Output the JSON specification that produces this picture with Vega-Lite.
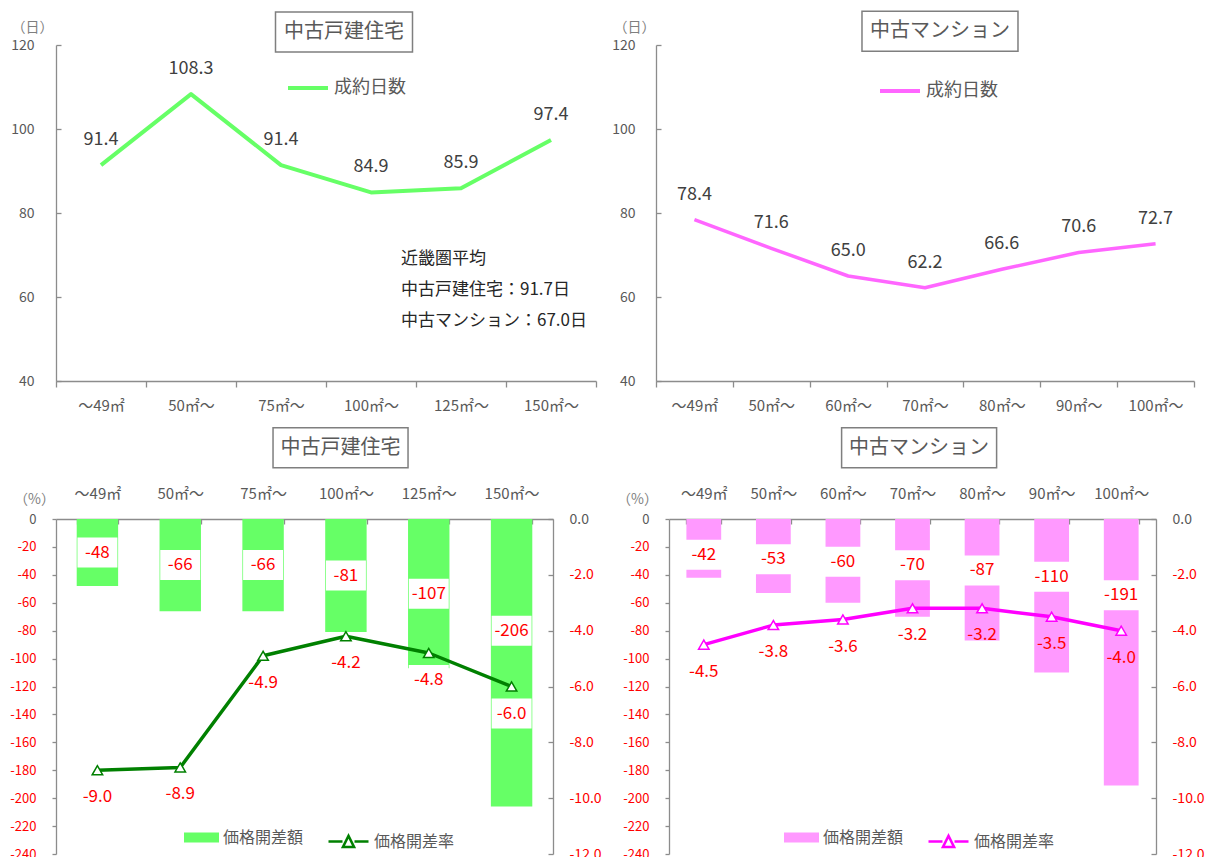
{
  "$schema": "https://vega.github.io/schema/vega-lite/v6.json",
  "padding": {"left": 9, "top": 8, "right": 0, "bottom": 0},
  "config": {
    "font": "Noto Sans CJK JP",
    "mark": {"font": "Noto Sans CJK JP"},
    "text": {"font": "Noto Sans CJK JP", "fontWeight": "normal"},
    "view": {"stroke": null},
    "locale": {"number": {"decimal": ".", "thousands": ",", "grouping": [3], "currency": ["", ""], "minus": "-"}},
    "axis": {"grid": false, "domainColor": "#8c8c8c", "tickColor": "#8c8c8c", "domainWidth": 1.3, "tickWidth": 1.3, "labelColor": "#595959", "labelFontSize": 14, "labelFont": "Noto Sans CJK JP", "titleFont": "Noto Sans CJK JP", "labelOverlap": false},
    "legend": {"labelColor": "#595959", "labelFont": "Noto Sans CJK JP", "padding": 0}
  },
  "datasets": {
    "kodate_days": [
      {"size": "～49㎡", "days": 91.4},
      {"size": "50㎡～", "days": 108.3},
      {"size": "75㎡～", "days": 91.4},
      {"size": "100㎡～", "days": 84.9},
      {"size": "125㎡～", "days": 85.9},
      {"size": "150㎡～", "days": 97.4}
    ],
    "mansion_days": [
      {"size": "～49㎡", "days": 78.4},
      {"size": "50㎡～", "days": 71.6},
      {"size": "60㎡～", "days": 65.0},
      {"size": "70㎡～", "days": 62.2},
      {"size": "80㎡～", "days": 66.6},
      {"size": "90㎡～", "days": 70.6},
      {"size": "100㎡～", "days": 72.7}
    ],
    "kodate_gap": [
      {"size": "～49㎡", "diff": -48, "rate": -9.0},
      {"size": "50㎡～", "diff": -66, "rate": -8.9},
      {"size": "75㎡～", "diff": -66, "rate": -4.9},
      {"size": "100㎡～", "diff": -81, "rate": -4.2},
      {"size": "125㎡～", "diff": -107, "rate": -4.8},
      {"size": "150㎡～", "diff": -206, "rate": -6.0}
    ],
    "mansion_gap": [
      {"size": "～49㎡", "diff": -42, "rate": -4.5},
      {"size": "50㎡～", "diff": -53, "rate": -3.8},
      {"size": "60㎡～", "diff": -60, "rate": -3.6},
      {"size": "70㎡～", "diff": -70, "rate": -3.2},
      {"size": "80㎡～", "diff": -87, "rate": -3.2},
      {"size": "90㎡～", "diff": -110, "rate": -3.5},
      {"size": "100㎡～", "diff": -191, "rate": -4.0}
    ],
    "single": [{}]
  },
  "spacing": 11,
  "resolve": {"scale": {"x": "independent", "y": "independent", "fill": "independent", "stroke": "independent"}},
  "vconcat": [
    {
      "hconcat": [
        {
          "width": 540,
          "height": 336,
          "data": {"name": "kodate_days"},
          "encoding": {
            "x": {"field": "size", "type": "nominal", "sort": null,
                  "scale": {"domain": ["～49㎡", "50㎡～", "75㎡～", "100㎡～", "125㎡～", "150㎡～"], "paddingInner": 0, "paddingOuter": 0},
                  "axis": {"orient": "bottom", "title": null, "labelAngle": 0, "tickBand": "extent", "tickSize": 6, "labelPadding": 11, "labelFontSize": 15}}
          },
          "layer": [
            {
              "mark": {"type": "line", "strokeWidth": 4, "strokeJoin": "round"},
              "encoding": {
                "y": {"field": "days", "type": "quantitative",
                      "scale": {"domain": [40, 120], "nice": false, "zero": false},
                      "axis": {"title": "（日）", "titleAngle": 0, "titleAlign": "center", "titleBaseline": "middle", "titleX": -24, "titleY": -18, "titleFontSize": 14, "titleFontWeight": "normal", "titleColor": "#7f7f7f", "values": [40, 60, 80, 100, 120], "tickCount": 10, "tickSize": -5, "labelPadding": 27, "labelOverlap": false}},
                "stroke": {"datum": "成約日数", "scale": {"range": ["#66FF66"]},
                           "legend": {"orient": "none", "legendX": 230, "legendY": 21, "title": null, "symbolType": "stroke", "symbolSize": 1600, "symbolStrokeWidth": 4, "labelFontSize": 18, "labelOffset": 4}}
              }
            },
            {
              "mark": {"type": "text", "dy": -25, "fontSize": 18, "color": "#404040"},
              "encoding": {
                "y": {"field": "days", "type": "quantitative"},
                "text": {"field": "days", "type": "quantitative", "format": ".1f"}
              }
            },
            {
              "data": {"name": "single"},
              "mark": {"type": "point", "shape": "M-3.425,-1H3.425V1H-3.425Z", "size": 1600, "filled": true, "fill": "white", "stroke": "#7f7f7f", "strokeWidth": 1.5, "opacity": 1},
              "encoding": {
                "x": {"datum": "100㎡～", "bandPosition": 0.2},
                "y": {"datum": 123.1, "type": "quantitative"}
              }
            },
            {
              "data": {"name": "single"},
              "mark": {"type": "text", "fontSize": 20, "color": "#595959", "align": "center", "baseline": "middle"},
              "encoding": {
                "x": {"datum": "100㎡～", "bandPosition": 0.2},
                "y": {"datum": 123.1, "type": "quantitative"},
                "text": {"value": "中古戸建住宅"}
              }
            },
            {
              "data": {"name": "single"},
              "mark": {"type": "text", "fontSize": 17, "color": "#262626", "align": "left", "baseline": "alphabetic", "lineHeight": 31, "dx": -15},
              "encoding": {
                "x": {"datum": "125㎡～", "bandPosition": 0},
                "y": {"datum": 67.9, "type": "quantitative"},
                "text": {"value": ["近畿圏平均", "中古戸建住宅：91.7日", "中古マンション：67.0日"]}
              }
            }
          ]
        },
        {
          "width": 538,
          "height": 336,
          "data": {"name": "mansion_days"},
          "encoding": {
            "x": {"field": "size", "type": "nominal", "sort": null,
                  "scale": {"domain": ["～49㎡", "50㎡～", "60㎡～", "70㎡～", "80㎡～", "90㎡～", "100㎡～"], "paddingInner": 0, "paddingOuter": 0},
                  "axis": {"orient": "bottom", "title": null, "labelAngle": 0, "tickBand": "extent", "tickSize": 6, "labelPadding": 11, "labelFontSize": 15}}
          },
          "layer": [
            {
              "mark": {"type": "line", "strokeWidth": 3.5, "strokeJoin": "round"},
              "encoding": {
                "y": {"field": "days", "type": "quantitative",
                      "scale": {"domain": [40, 120], "nice": false, "zero": false},
                      "axis": {"title": "（日）", "titleAngle": 0, "titleAlign": "center", "titleBaseline": "middle", "titleX": -22, "titleY": -18, "titleFontSize": 14, "titleFontWeight": "normal", "titleColor": "#7f7f7f", "values": [40, 60, 80, 100, 120], "tickCount": 10, "tickSize": -5, "labelPadding": 26, "labelOverlap": false}},
                "stroke": {"datum": "成約日数", "scale": {"range": ["#FF66FF"]},
                           "legend": {"orient": "none", "legendX": 222, "legendY": 24, "title": null, "symbolType": "stroke", "symbolSize": 1600, "symbolStrokeWidth": 4, "labelFontSize": 18, "labelOffset": 4}}
              }
            },
            {
              "mark": {"type": "text", "dy": -25, "fontSize": 18, "color": "#404040"},
              "encoding": {
                "y": {"field": "days", "type": "quantitative"},
                "text": {"field": "days", "type": "quantitative", "format": ".1f"}
              }
            },
            {
              "data": {"name": "single"},
              "mark": {"type": "point", "shape": "M-3.9,-1H3.9V1H-3.9Z", "size": 1600, "filled": true, "fill": "white", "stroke": "#7f7f7f", "strokeWidth": 1.5, "opacity": 1},
              "encoding": {
                "x": {"datum": "70㎡～", "bandPosition": 0.695},
                "y": {"datum": 123.3, "type": "quantitative"}
              }
            },
            {
              "data": {"name": "single"},
              "mark": {"type": "text", "fontSize": 20, "color": "#595959", "align": "center", "baseline": "middle"},
              "encoding": {
                "x": {"datum": "70㎡～", "bandPosition": 0.695},
                "y": {"datum": 123.3, "type": "quantitative"},
                "text": {"value": "中古マンション"}
              }
            }
          ]
        }
      ],
      "spacing": 60,
      "bounds": "flush",
      "resolve": {"scale": {"x": "independent", "y": "independent", "stroke": "independent", "fill": "independent"}}
    },
    {
      "hconcat": [
        {
          "width": 497,
          "height": 335,
          "data": {"name": "kodate_gap"},
          "encoding": {
            "x": {"field": "size", "type": "nominal", "sort": null,
                  "scale": {"domain": ["～49㎡", "50㎡～", "75㎡～", "100㎡～", "125㎡～", "150㎡～"], "paddingInner": 0.5, "paddingOuter": 0.25},
                  "axis": {"orient": "top", "title": null, "labelAngle": 0, "tickBand": "extent", "tickSize": -5, "labelPadding": 23, "labelFontSize": 15}}
          },
          "layer": [
            {
              "layer": [
                {
                  "mark": {"type": "bar"},
                  "encoding": {
                    "y": {"field": "diff", "type": "quantitative",
                          "scale": {"domain": [-240, 0], "nice": false},
                          "axis": {"title": "（%）", "titleAngle": 0, "titleAlign": "center", "titleBaseline": "middle", "titleX": -22, "titleY": -20, "titleFontSize": 14, "titleFontWeight": "normal", "titleColor": "#7f7f7f",
                                   "values": [0, -20, -40, -60, -80, -100, -120, -140, -160, -180, -200, -220, -240],
                                   "tickCount": 20, "tickSize": 4, "labelPadding": 16, "labelFontSize": 13, "labelOverlap": false,
                                   "labelColor": {"condition": {"test": "datum.value < 0", "value": "#FF0000"}, "value": "#595959"}}},
                    "fill": {"datum": "価格開差額", "scale": {"range": ["#66FF66"]},
                             "legend": {"orient": "none", "legendX": 128, "legendY": 301, "title": null, "symbolType": "M-1,-0.28H1V0.28H-1Z", "symbolSize": 1225, "symbolStrokeWidth": 0, "labelFontSize": 16, "labelOffset": 4}}
                  }
                },
                {
                  "transform": [{"calculate": "max(datum.diff / 2, -80)", "as": "label_at"}],
                  "mark": {"type": "point", "shape": "M-1.333,-1H1.333V1H-1.333Z", "size": 900, "filled": true, "fill": "white", "strokeWidth": 0, "opacity": 1},
                  "encoding": {"y": {"field": "label_at", "type": "quantitative"}}
                },
                {
                  "transform": [{"calculate": "max(datum.diff / 2, -80)", "as": "label_at"}],
                  "mark": {"type": "text", "fontSize": 17, "color": "#FF0000"},
                  "encoding": {
                    "y": {"field": "label_at", "type": "quantitative"},
                    "text": {"field": "diff", "type": "quantitative", "format": "d"}
                  }
                },
                {
                  "data": {"name": "single"},
                  "mark": {"type": "point", "shape": "M-3.375,-1H3.375V1H-3.375Z", "size": 1600, "filled": true, "fill": "white", "stroke": "#7f7f7f", "strokeWidth": 1.5, "opacity": 1},
                  "encoding": {
                    "x": {"datum": "100㎡～", "bandPosition": 0.37},
                    "y": {"datum": 51.1, "type": "quantitative"}
                  }
                },
                {
                  "data": {"name": "single"},
                  "mark": {"type": "text", "fontSize": 20, "color": "#595959", "align": "center", "baseline": "middle"},
                  "encoding": {
                    "x": {"datum": "100㎡～", "bandPosition": 0.37},
                    "y": {"datum": 51.1, "type": "quantitative"},
                    "text": {"value": "中古戸建住宅"}
                  }
                }
              ]
            },
            {
              "layer": [
                {
                  "mark": {"type": "point", "shape": "M-1.333,-1H1.333V1H-1.333Z", "size": 900, "filled": true, "fill": "white", "strokeWidth": 0, "opacity": 1, "yOffset": 27},
                  "encoding": {
                    "y": {"field": "rate", "type": "quantitative",
                          "scale": {"domain": [-12, 0], "nice": false},
                          "axis": {"orient": "right", "title": null, "format": ".1f",
                                   "values": [0, -2, -4, -6, -8, -10, -12],
                                   "tickCount": 10, "tickSize": -5, "labelPadding": 21, "labelFontSize": 14, "labelOverlap": false,
                                   "labelColor": {"condition": {"test": "datum.value < 0", "value": "#FF0000"}, "value": "#595959"}}}
                  }
                },
                {
                  "mark": {"type": "line", "strokeWidth": 3.5, "strokeJoin": "round"},
                  "encoding": {
                    "y": {"field": "rate", "type": "quantitative"},
                    "stroke": {"datum": "価格開差率", "scale": {"range": ["#008000"]},
                               "legend": {"orient": "none", "legendX": 271, "legendY": 301, "title": null, "symbolType": "M-1,0H-0.3M0.3,0H1M-0.28,0.28L0,-0.28L0.28,0.28Z", "symbolSize": 1600, "symbolStrokeWidth": 2.5, "symbolFillColor": "white", "labelFontSize": 16, "labelOffset": 4}}
                  }
                },
                {
                  "mark": {"type": "point", "shape": "triangle-up", "size": 110, "filled": true, "fill": "white", "stroke": "#008000", "strokeWidth": 1.5, "opacity": 1},
                  "encoding": {"y": {"field": "rate", "type": "quantitative"}}
                },
                {
                  "mark": {"type": "text", "fontSize": 17, "color": "#FF0000", "dy": 27},
                  "encoding": {
                    "y": {"field": "rate", "type": "quantitative"},
                    "text": {"field": "rate", "type": "quantitative", "format": ".1f"}
                  }
                }
              ]
            }
          ],
          "resolve": {"scale": {"y": "independent"}}
        },
        {
          "width": 487,
          "height": 335,
          "data": {"name": "mansion_gap"},
          "encoding": {
            "x": {"field": "size", "type": "nominal", "sort": null,
                  "scale": {"domain": ["～49㎡", "50㎡～", "60㎡～", "70㎡～", "80㎡～", "90㎡～", "100㎡～"], "paddingInner": 0.5, "paddingOuter": 0.25},
                  "axis": {"orient": "top", "title": null, "labelAngle": 0, "tickBand": "extent", "tickSize": -5, "labelPadding": 23, "labelFontSize": 15}}
          },
          "layer": [
            {
              "layer": [
                {
                  "mark": {"type": "bar"},
                  "encoding": {
                    "y": {"field": "diff", "type": "quantitative",
                          "scale": {"domain": [-240, 0], "nice": false},
                          "axis": {"title": "（%）", "titleAngle": 0, "titleAlign": "center", "titleBaseline": "middle", "titleX": -32, "titleY": -20, "titleFontSize": 14, "titleFontWeight": "normal", "titleColor": "#7f7f7f",
                                   "values": [0, -20, -40, -60, -80, -100, -120, -140, -160, -180, -200, -220, -240],
                                   "tickCount": 20, "tickSize": 4, "labelPadding": 16, "labelFontSize": 13, "labelOverlap": false,
                                   "labelColor": {"condition": {"test": "datum.value < 0", "value": "#FF0000"}, "value": "#595959"}}},
                    "fill": {"datum": "価格開差額", "scale": {"range": ["#FF99FF"]},
                             "legend": {"orient": "none", "legendX": 115, "legendY": 301, "title": null, "symbolType": "M-1,-0.28H1V0.28H-1Z", "symbolSize": 1225, "symbolStrokeWidth": 0, "labelFontSize": 16, "labelOffset": 4}}
                  }
                },
                {
                  "transform": [{"calculate": "-3.95 * sqrt(-datum.diff)", "as": "label_at"}],
                  "mark": {"type": "point", "shape": "M-1.333,-1H1.333V1H-1.333Z", "size": 900, "filled": true, "fill": "white", "strokeWidth": 0, "opacity": 1},
                  "encoding": {"y": {"field": "label_at", "type": "quantitative"}}
                },
                {
                  "transform": [{"calculate": "-3.95 * sqrt(-datum.diff)", "as": "label_at"}],
                  "mark": {"type": "text", "fontSize": 17, "color": "#FF0000"},
                  "encoding": {
                    "y": {"field": "label_at", "type": "quantitative"},
                    "text": {"field": "diff", "type": "quantitative", "format": "d"}
                  }
                },
                {
                  "data": {"name": "single"},
                  "mark": {"type": "point", "shape": "M-3.875,-1H3.875V1H-3.875Z", "size": 1600, "filled": true, "fill": "white", "stroke": "#7f7f7f", "strokeWidth": 1.5, "opacity": 1},
                  "encoding": {
                    "x": {"datum": "70㎡～", "bandPosition": 0.69},
                    "y": {"datum": 51.1, "type": "quantitative"}
                  }
                },
                {
                  "data": {"name": "single"},
                  "mark": {"type": "text", "fontSize": 20, "color": "#595959", "align": "center", "baseline": "middle"},
                  "encoding": {
                    "x": {"datum": "70㎡～", "bandPosition": 0.69},
                    "y": {"datum": 51.1, "type": "quantitative"},
                    "text": {"value": "中古マンション"}
                  }
                }
              ]
            },
            {
              "layer": [
                {
                  "mark": {"type": "line", "strokeWidth": 3.5, "strokeJoin": "round"},
                  "encoding": {
                    "y": {"field": "rate", "type": "quantitative",
                          "scale": {"domain": [-12, 0], "nice": false},
                          "axis": {"orient": "right", "title": null, "format": ".1f",
                                   "values": [0, -2, -4, -6, -8, -10, -12],
                                   "tickCount": 10, "tickSize": -5, "labelPadding": 21, "labelFontSize": 14, "labelOverlap": false,
                                   "labelColor": {"condition": {"test": "datum.value < 0", "value": "#FF0000"}, "value": "#595959"}}},
                    "stroke": {"datum": "価格開差率", "scale": {"range": ["#FF00FF"]},
                               "legend": {"orient": "none", "legendX": 258, "legendY": 301, "title": null, "symbolType": "M-1,0H-0.3M0.3,0H1M-0.28,0.28L0,-0.28L0.28,0.28Z", "symbolSize": 1600, "symbolStrokeWidth": 2.5, "symbolFillColor": "white", "labelFontSize": 16, "labelOffset": 4}}
                  }
                },
                {
                  "mark": {"type": "point", "shape": "triangle-up", "size": 110, "filled": true, "fill": "white", "stroke": "#FF00FF", "strokeWidth": 1.5, "opacity": 1},
                  "encoding": {"y": {"field": "rate", "type": "quantitative"}}
                },
                {
                  "mark": {"type": "text", "fontSize": 17, "color": "#FF0000", "dy": 27},
                  "encoding": {
                    "y": {"field": "rate", "type": "quantitative"},
                    "text": {"field": "rate", "type": "quantitative", "format": ".1f"}
                  }
                }
              ]
            }
          ],
          "resolve": {"scale": {"y": "independent"}}
        }
      ],
      "spacing": 116,
      "bounds": "flush",
      "resolve": {"scale": {"x": "independent", "y": "independent", "stroke": "independent", "fill": "independent"}}
    }
  ]
}
